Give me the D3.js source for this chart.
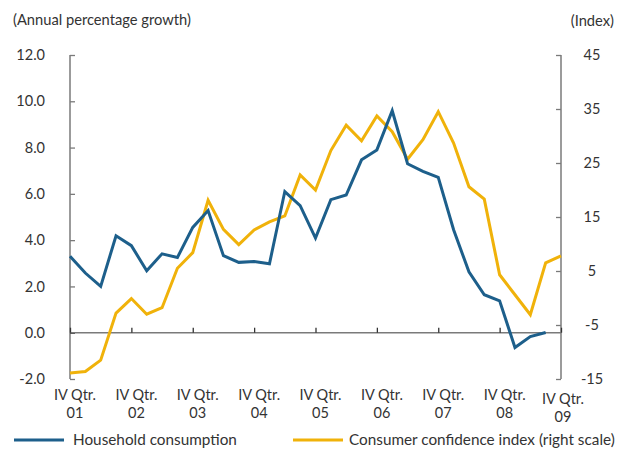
<!DOCTYPE html>
<html>
<head>
<meta charset="utf-8">
<script src="https://cdn.jsdelivr.net/npm/d3@7"></script>
<style>
  html, body { margin: 0; padding: 0; background: #fff; }
  svg { display: block; }
  text { font-family: Lato, "Open Sans", sans-serif; fill: #333; }
</style>
</head>
<body>
<svg id="chart" width="624" height="449"></svg>
<script>
// Quarters from IV 2001 to IV 2009
const quarters = [
  "IV-01","I-02","II-02","III-02","IV-02","I-03","II-03","III-03","IV-03",
  "I-04","II-04","III-04","IV-04","I-05","II-05","III-05","IV-05",
  "I-06","II-06","III-06","IV-06","I-07","II-07","III-07","IV-07",
  "I-08","II-08","III-08","IV-08","I-09","II-09","III-09","IV-09"
];
// Household consumption, annual % growth (left scale), IV-01 .. III-09
const householdConsumption = [
  3.3, 2.58, 2.0, 4.19, 3.76, 2.68, 3.41, 3.25, 4.55,
  5.28, 3.33, 3.04, 3.08, 2.98, 6.1, 5.49, 4.09,
  5.75, 5.95, 7.47, 7.9, 9.59, 7.3, 6.97, 6.71,
  4.45, 2.63, 1.64, 1.38, -0.64, -0.17, 0.01
];
// Consumer confidence index (right scale), IV-01 .. IV-09
const consumerConfidence = [
  -13.9, -13.6, -11.5, -2.8, -0.1, -3.0, -1.8, 5.5, 8.4,
  18.1, 12.7, 9.9, 12.6, 14.1, 15.2, 22.8, 20.0,
  27.3, 32.0, 29.1, 33.7, 30.8, 25.7, 29.3, 34.5,
  28.7, 20.6, 18.3, 4.3, 0.6, -3.1, 6.5, 7.8
];
const leftTicks = [-2, 0, 2, 4, 6, 8, 10, 12];
const rightTicks = [-15, -5, 5, 15, 25, 35, 45];
const xTickQuarters = ["IV-01","IV-02","IV-03","IV-04","IV-05","IV-06","IV-07","IV-08","IV-09"];
const xTickYears = ["01","02","03","04","05","06","07","08","09"];
const seriesNames = ["Household consumption", "Consumer confidence index (right scale)"];
const leftTitle = "(Annual percentage growth)";
const rightTitle = "(Index)";

const colors = { blue: "#1d5f8b", yellow: "#f0b20a", axis: "#7a7a7a" };

const svg = d3.select("#chart");
const L = 70, R = 561, T = 55, B = 379;

const x = d3.scalePoint().domain(quarters).range([L, R]);
const yL = d3.scaleLinear().domain([-2, 12]).range([B, T]);
const yR = d3.scaleLinear().domain([-15, 45]).range([B, T]);

const fmt = d => d3.format(".1f")(d).replace("\u2212", "-");

// Left axis
const leftAxis = svg.append("g").attr("transform", `translate(${L},0)`)
  .call(d3.axisRight(yL).tickValues(leftTicks).tickSize(5).tickFormat(""));
leftAxis.select(".domain").attr("stroke", colors.axis).attr("stroke-width", 1.5).attr("d", `M0,${T}V${B}`);
leftAxis.selectAll(".tick line").attr("stroke", colors.axis).attr("stroke-width", 1.3);
leftAxis.selectAll(".tick").filter(d => d === 0).select("line").attr("stroke", "#222");

svg.append("g").selectAll("text").data(leftTicks).join("text")
  .attr("x", 45).attr("y", d => yL(d)).attr("dy", "0.35em")
  .attr("text-anchor", "end").attr("font-size", 14.5)
  .text(fmt);

// Right axis
const rightAxis = svg.append("g").attr("transform", `translate(${R},0)`)
  .call(d3.axisLeft(yR).tickValues(rightTicks).tickSize(5).tickFormat(""));
rightAxis.select(".domain").attr("stroke", colors.axis).attr("stroke-width", 1.5).attr("d", `M0,${T}V${B}`);
rightAxis.selectAll(".tick line").attr("stroke", colors.axis).attr("stroke-width", 1.3);

svg.append("g").selectAll("text").data(rightTicks).join("text")
  .attr("x", 592).attr("y", d => yR(d)).attr("dy", "0.35em")
  .attr("text-anchor", "middle").attr("font-size", 14.5)
  .text(d => String(d));

// X axis at zero line
const xAxis = svg.append("g").attr("transform", `translate(0,${yL(0)})`)
  .call(d3.axisTop(x).tickValues(xTickQuarters).tickSize(5).tickFormat(""));
xAxis.select(".domain").attr("stroke", colors.axis).attr("stroke-width", 1.5).attr("d", `M${L},0H${R}`);
xAxis.selectAll(".tick line").attr("stroke", "#333").attr("stroke-width", 1.3);

const xl = svg.append("g").selectAll("g").data(xTickQuarters).join("g")
  .attr("transform", (d, i) => {
    const last = i === xTickQuarters.length - 1;
    return `translate(${x(d) + (last ? 2 : 5)},${last ? 4 : 0})`;
  });
xl.append("text").attr("y", 395).attr("dy", "0.35em").attr("text-anchor", "middle")
  .attr("font-size", 14.5).text("IV Qtr.");
xl.append("text").attr("y", 413).attr("dy", "0.35em").attr("text-anchor", "middle")
  .attr("font-size", 14.5).text((d, i) => xTickYears[i]);

// Lines
const lineL = d3.line().x((d, i) => x(quarters[i])).y(d => yL(d));
const lineR = d3.line().x((d, i) => x(quarters[i])).y(d => yR(d));

svg.append("path").datum(consumerConfidence)
  .attr("d", lineR).attr("fill", "none").attr("stroke", colors.yellow)
  .attr("stroke-width", 3).attr("stroke-linejoin", "miter");
svg.append("path").datum(householdConsumption)
  .attr("d", lineL).attr("fill", "none").attr("stroke", colors.blue)
  .attr("stroke-width", 3).attr("stroke-linejoin", "miter");

// Titles
svg.append("text").attr("x", 13).attr("y", 20).attr("dy", "0.35em")
  .attr("font-size", 14.7).text(leftTitle);
svg.append("text").attr("x", 614).attr("y", 21).attr("dy", "0.35em")
  .attr("text-anchor", "end").attr("font-size", 14.7).text(rightTitle);

// Legend
const legendItems = [
  { name: seriesNames[0], color: colors.blue, x1: 14, x2: 64, tx: 73 },
  { name: seriesNames[1], color: colors.yellow, x1: 293, x2: 343, tx: 349 }
];
const lg = svg.append("g").selectAll("g").data(legendItems).join("g");
lg.append("line").attr("x1", d => d.x1).attr("x2", d => d.x2)
  .attr("y1", 440).attr("y2", 440).attr("stroke", d => d.color).attr("stroke-width", 3);
lg.append("text").attr("x", d => d.tx).attr("y", 440).attr("dy", "0.35em")
  .attr("font-size", 15.3).text(d => d.name);
</script>
</body>
</html>
